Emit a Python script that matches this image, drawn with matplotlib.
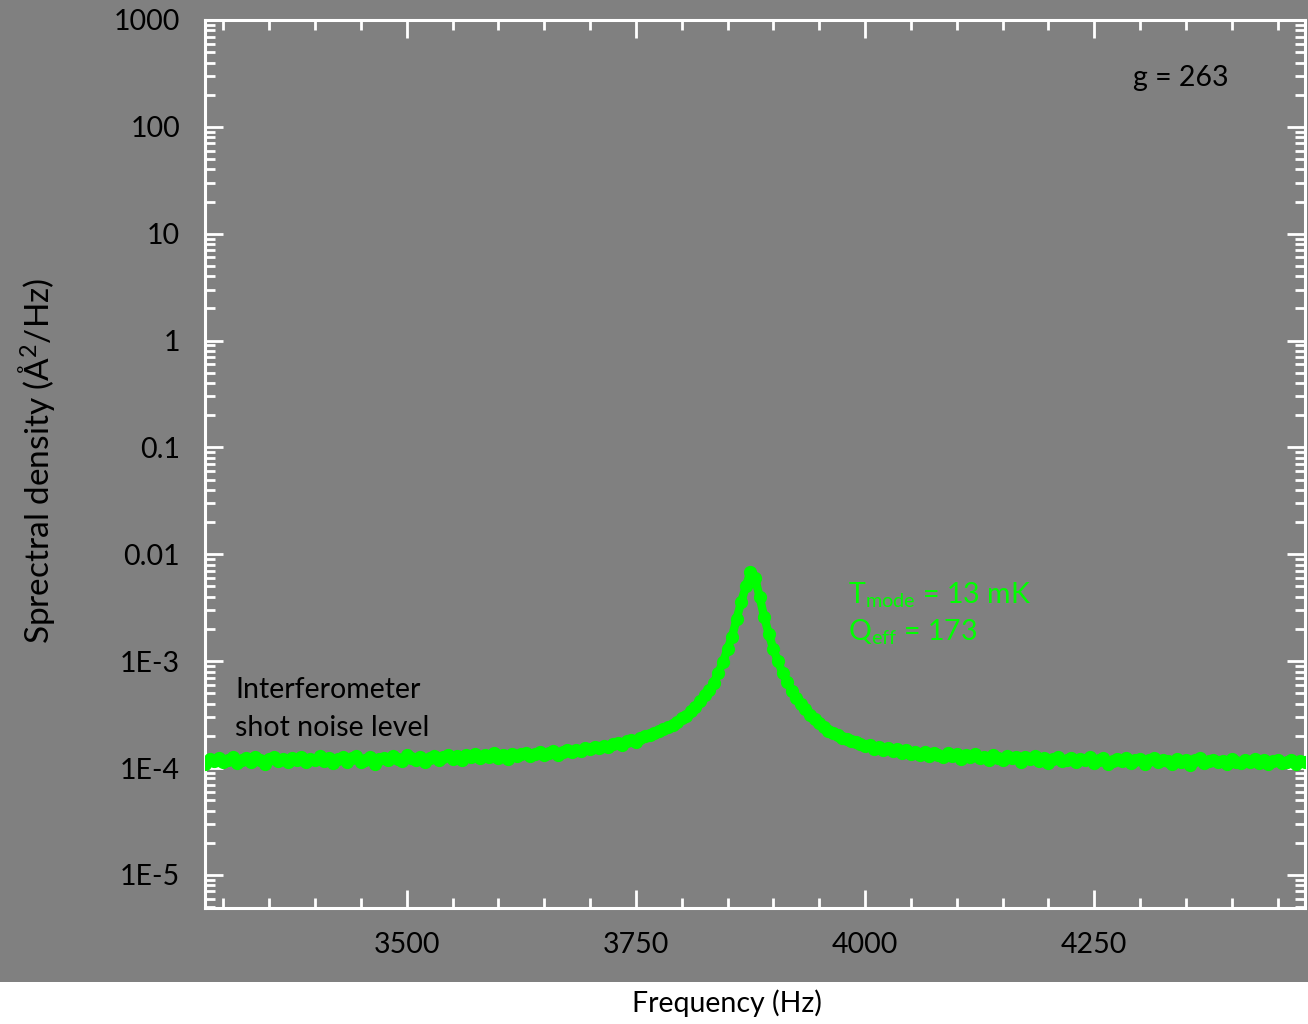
import numpy as np
import matplotlib
matplotlib.use("Agg")
import matplotlib.pyplot as plt
from matplotlib.patches import Rectangle
from matplotlib.ticker import FixedLocator, LogLocator, NullFormatter, MultipleLocator

plt.rcParams['font.family'] = ['Lato', 'DejaVu Sans']
plt.rcParams['mathtext.fontset'] = 'custom'
plt.rcParams['mathtext.rm'] = 'Lato'
plt.rcParams['mathtext.it'] = 'Lato'

# Frequency grid (Hz), 5 Hz step
freq = np.arange(3280, 4481, 5)
# Spectral density in units of 1e-4 A^2/Hz
psd_e4 = [
    1.10, 1.22, 1.16, 1.25, 1.14, 1.20, 1.27, 1.12, 1.19, 1.23,
    1.15, 1.26, 1.18, 1.08, 1.22, 1.28, 1.17, 1.21, 1.13, 1.25,
    1.19, 1.27, 1.14, 1.22, 1.18, 1.29, 1.16, 1.24, 1.11, 1.21,
    1.26, 1.15, 1.23, 1.30, 1.13, 1.20, 1.27, 1.10, 1.22, 1.25,
    1.18, 1.29, 1.21, 1.16, 1.31, 1.24, 1.19, 1.27, 1.14, 1.25,
    1.30, 1.20, 1.27, 1.33, 1.22, 1.29, 1.18, 1.31, 1.26, 1.35,
    1.24, 1.32, 1.28, 1.37, 1.25, 1.31, 1.22, 1.36, 1.29, 1.34,
    1.38, 1.30, 1.35, 1.41, 1.31, 1.37, 1.44, 1.33, 1.40, 1.46,
    1.42, 1.49, 1.45, 1.53, 1.50, 1.58, 1.54, 1.62, 1.57, 1.66,
    1.70, 1.64, 1.78, 1.82, 1.76, 1.92, 1.98, 2.05, 2.12, 2.24,
    2.30, 2.42, 2.55, 2.70, 2.95, 3.10, 3.45, 3.70, 4.20, 4.80,
    5.4, 6.3, 7.8, 9.8, 13.0, 17.0, 25.0, 36.0, 50.0, 68.0,
    60.0, 40.0, 26.0, 18.0, 13.0, 10.0, 7.8, 6.4, 5.3, 4.5,
    4.0, 3.55, 3.15, 2.85, 2.62, 2.40, 2.22, 2.12, 2.02, 1.92,
    1.86, 1.78, 1.74, 1.68, 1.60, 1.63, 1.52, 1.57, 1.48, 1.53,
    1.44, 1.50, 1.39, 1.46, 1.36, 1.42, 1.33, 1.40, 1.30, 1.37,
    1.32, 1.26, 1.38, 1.29, 1.34, 1.22, 1.31, 1.27, 1.35, 1.24,
    1.28, 1.20, 1.33, 1.25, 1.18, 1.30, 1.23, 1.27, 1.15, 1.26,
    1.21, 1.29, 1.17, 1.24, 1.12, 1.22, 1.27, 1.16, 1.20, 1.25,
    1.14, 1.21, 1.18, 1.26, 1.11, 1.19, 1.23, 1.09, 1.17, 1.22,
    1.16, 1.24, 1.12, 1.19, 1.21, 1.08, 1.18, 1.23, 1.13, 1.20,
    1.17, 1.10, 1.22, 1.15, 1.19, 1.06, 1.18, 1.24, 1.12, 1.16,
    1.20, 1.13, 1.17, 1.09, 1.22, 1.15, 1.11, 1.19, 1.14, 1.21,
    1.12, 1.18, 1.08, 1.16, 1.20, 1.11, 1.15, 1.19, 1.10, 1.17,
    1.14,
]
psd = np.array(psd_e4) * 1e-4

xticks = [3500, 3750, 4000, 4250]
yticks = [1e3, 1e2, 1e1, 1, 0.1, 0.01, 1e-3, 1e-4, 1e-5]
ytick_labels = ["1000", "100", "10", "1", "0.1", "0.01", "1E-3", "1E-4", "1E-5"]

GRAY = "#808080"
GREEN = "#00ff00"
FS = 20.5

fig = plt.figure(figsize=(13.08, 10.24), dpi=100, facecolor="white")
fig.patches.append(Rectangle((0, 42 / 1024), 1, 1, transform=fig.transFigure,
                             facecolor=GRAY, edgecolor="none", zorder=-10))
ax = fig.add_axes([205 / 1308, 116 / 1024, 1100 / 1308, 888 / 1024])
ax.set_facecolor(GRAY)

ax.plot(freq, psd, color=GREEN, lw=6, marker="o", ms=8.5, mec=GREEN, mfc=GREEN,
        solid_joinstyle="round", solid_capstyle="round", zorder=3)

ax.set_yscale("log")
ax.set_xlim(3280, 4480)
ax.set_ylim(10 ** -5.31, 1000)

ax.xaxis.set_major_locator(FixedLocator(xticks))
ax.xaxis.set_minor_locator(MultipleLocator(50))
ax.yaxis.set_major_locator(FixedLocator(yticks))
ax.set_yticklabels(ytick_labels)
ax.yaxis.set_minor_locator(LogLocator(base=10, subs=np.arange(2, 10), numticks=20))
ax.yaxis.set_minor_formatter(NullFormatter())

for s in ax.spines.values():
    s.set_color("white")
    s.set_linewidth(2.2)

ax.tick_params(which="both", direction="in", colors="white", labelcolor="black",
               top=True, right=True, width=2.0)
ax.tick_params(which="major", length=13)
ax.tick_params(which="minor", length=7.5)
ax.tick_params(axis="y", which="major", labelsize=FS, pad=18)
ax.tick_params(axis="x", which="major", labelsize=FS, pad=17)

fig.text(37 / 1308, 1 - 461 / 1024, "Sprectral density (Å$^{2}$/Hz)", rotation=90,
         ha="center", va="center", fontsize=24, color="black")
fig.text(727 / 1308, 1 - 1003 / 1024, "Frequency (Hz)", ha="center", va="center",
         fontsize=FS, color="black")

fig.text(1133 / 1308, 1 - 78 / 1024, "g = 263", ha="left", va="center", fontsize=FS,
         color="black")
fig.text(235 / 1308, 1 - 690 / 1024, "Interferometer", ha="left", va="center",
         fontsize=FS, color="black")
fig.text(235 / 1308, 1 - 728 / 1024, "shot noise level", ha="left", va="center",
         fontsize=FS, color="black")
fig.text(848 / 1308, 1 - 595 / 1024, r"T$_{\mathrm{mode}}$ = 13 mK", ha="left",
         va="center", fontsize=FS, color=GREEN)
fig.text(848 / 1308, 1 - 632 / 1024, r"Q$_{\mathrm{eff}}$ = 173", ha="left",
         va="center", fontsize=FS, color=GREEN)

fig.savefig("out.png", dpi=100, facecolor="white")
